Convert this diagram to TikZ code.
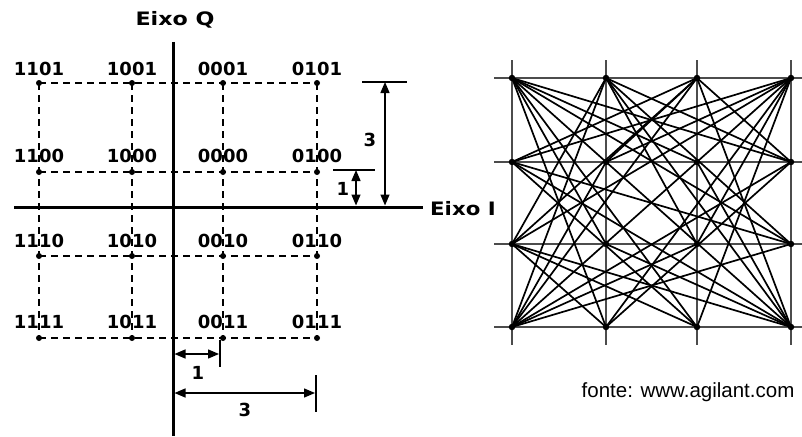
\documentclass[tikz,border=0pt]{standalone}
\usepackage{fontspec}
\setmainfont{DejaVu Sans}
\newfontfamily\srcfont{Liberation Sans}
\usetikzlibrary{arrows.meta}
\tikzset{
  axisline/.style={line width=3pt},
  dashgrid/.style={line width=1.2pt, dash pattern=on 7pt off 5pt},
  qdot/.style={circle, fill=black, inner sep=0pt, minimum size=6pt},
  rdot/.style={circle, fill=black, inner sep=0pt, minimum size=6.5pt},
  lbl/.style={font=\fontsize{18}{18}\selectfont\bfseries, inner sep=0pt},
  axlbl/.style={font=\fontsize{18.5}{18.5}\selectfont\bfseries, inner sep=0pt},
  dimarrow/.style={line width=1.4pt, {Triangle[length=11pt,width=9pt]}-{Triangle[length=11pt,width=9pt]}},
  dimtick/.style={line width=1.3pt},
  gridline/.style={line width=2.2pt, draw=black!70},
  trans/.style={line width=1.7pt, draw=black},
}
\begin{document}
\begin{tikzpicture}[x=1pt,y=-1pt]
\useasboundingbox (0,0) rectangle (802,436);

% ---------- left constellation ----------
\foreach \x [count=\i from 0] in {39,132,223,317}
  \foreach \y [count=\j from 0] in {83,172,256,338}
    \coordinate (q\i\j) at (\x,\y);

\foreach \j in {0,1,2,3} \draw[dashgrid] (q0\j) -- (q3\j);
\foreach \i in {0,1,2,3} \draw[dashgrid] (q\i0) -- (q\i3);

\coordinate (qtop) at (173,42);
\coordinate (qbot) at (173,436);
\coordinate (ileft) at (14,207);
\coordinate (iright) at (423,207);
\draw[axisline] (qtop) -- (qbot);
\draw[axisline] (ileft) -- (iright);

\foreach \i in {0,1,2,3}
  \foreach \j in {0,1,2,3}
    \node[qdot] (qd\i\j) at (q\i\j) {};

\node[axlbl] (eixoq) at (175,20) {\scalebox{1.2}[1]{Eixo Q}};
\node[axlbl, anchor=west] (eixoi) at (430,209) {\scalebox{1.15}[1]{Eixo I}};

\node[lbl] (l1101) at (39,69) {1101};
\node[lbl] (l1001) at (132,69) {1001};
\node[lbl] (l0001) at (223,69) {0001};
\node[lbl] (l0101) at (317,69) {0101};
\node[lbl] (l1100) at (39,156) {1100};
\node[lbl] (l1000) at (132,156) {1000};
\node[lbl] (l0000) at (223,156) {0000};
\node[lbl] (l0100) at (317,156) {0100};
\node[lbl] (l1110) at (39,241) {1110};
\node[lbl] (l1010) at (132,241) {1010};
\node[lbl] (l0010) at (223,241) {0010};
\node[lbl] (l0110) at (317,241) {0110};
\node[lbl] (l1111) at (39,322) {1111};
\node[lbl] (l1011) at (132,322) {1011};
\node[lbl] (l0011) at (223,322) {0011};
\node[lbl] (l0111) at (317,322) {0111};

% dimension "3" (vertical)
\coordinate (t3a) at (362,82);
\coordinate (t3b) at (407,82);
\draw[dimtick] (t3a) -- (t3b);
\coordinate (a3top) at (385,82);
\coordinate (a3bot) at (385,205.5);
\draw[dimarrow] (a3top) -- (a3bot);
\node[lbl] (d3v) at (370,140) {3};
% dimension "1" (vertical)
\coordinate (t1a) at (333,170);
\coordinate (t1b) at (375,170);
\draw[dimtick] (t1a) -- (t1b);
\coordinate (a1top) at (356,170);
\coordinate (a1bot) at (356,205.5);
\draw[dimarrow] (a1top) -- (a1bot);
\node[lbl] (d1v) at (343,189) {1};
% dimension "1" (horizontal)
\coordinate (b1l) at (174.5,354);
\coordinate (b1r) at (219,354);
\draw[dimarrow] (b1l) -- (b1r);
\coordinate (tb1a) at (220,340);
\coordinate (tb1b) at (220,367);
\draw[dimtick] (tb1a) -- (tb1b);
\node[lbl] (d1h) at (198,373) {1};
% dimension "3" (horizontal)
\coordinate (b3l) at (174.5,393);
\coordinate (b3r) at (315,393);
\draw[dimarrow] (b3l) -- (b3r);
\coordinate (tb3a) at (316,375);
\coordinate (tb3b) at (316,412);
\draw[dimtick] (tb3a) -- (tb3b);
\node[lbl] (d3h) at (245,410) {3};

% ---------- right trajectory diagram ----------
\foreach \x [count=\i from 0] in {512,606,697,791}
  \foreach \y [count=\j from 0] in {78,162,244,327}
    \coordinate (r\i\j) at (\x,\y);

\foreach \x [count=\i from 0] in {512,606,697,791}{
  \coordinate (vt\i) at (\x,60);
  \coordinate (vb\i) at (\x,345);
  \draw[gridline] (vt\i) -- (vb\i);
}
\foreach \y [count=\j from 0] in {78,162,244,327}{
  \coordinate (hl\j) at (494,\y);
  \coordinate (hr\j) at (802,\y);
  \draw[gridline] (hl\j) -- (hr\j);
}

\foreach \a/\b in {00/12,00/13,00/23,00/21,00/31,00/32,00/33,
                   30/01,30/02,30/11,30/03,30/13,30/22,30/23,
                   03/10,03/20,03/11,03/22,03/31,03/32,
                   33/01,33/02,33/12,33/10,33/20,33/21,
                   10/02,10/32,20/02,20/31,02/23,02/13,31/13,
                   01/32,10/22,20/11,01/23,10/31,20/01}
  \draw[trans] (r\a) -- (r\b);

\foreach \i in {0,1,2,3}
  \foreach \j in {0,1,2,3}
    \node[rdot] (rd\i\j) at (r\i\j) {};

\node[font=\srcfont\fontsize{20.5}{20.5}\selectfont, inner sep=0pt] (fonte) at (688,392) {fonte: www.agilant.com};
\end{tikzpicture}
\end{document}
